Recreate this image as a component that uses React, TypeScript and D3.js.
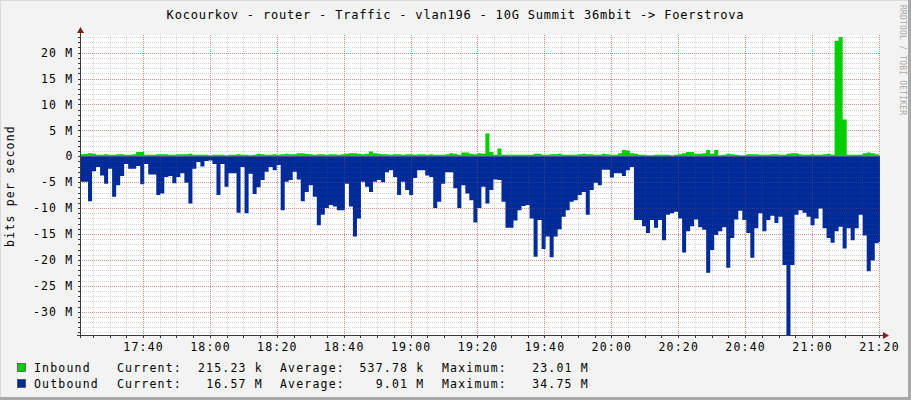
import React from 'react';
import * as d3 from 'd3';

const TITLE = 'Kocourkov - router - Traffic - vlan196 - 10G Summit 36mbit -> Foerstrova';
const Y_TITLE = 'bits per second';
const WATERMARK = 'RRDTOOL / TOBI OETIKER';

const START_TIME = new Date(2024, 0, 1, 17, 21, 10);
const END_TIME = new Date(2024, 0, 1, 21, 20, 20);
const STEP_SECONDS = 72;

// Inbound traffic, Mbit/s
const inbound = [
  0.4, 0.5, 0.6, 0.5, 0.3, 0.3, 0.4, 0.3, 0.3, 0.4,
  0.4, 0.3, 0.3, 0.4, 0.8, 0.8, 0.3, 0.3, 0.3, 0.4,
  0.4, 0.4, 0.3, 0.3, 0.4, 0.4, 0.4, 0.5, 0.3, 0.3,
  0.3, 0.3, 0.2, 0.3, 0.3, 0.3, 0.2, 0.3, 0.3, 0.4,
  0.3, 0.3, 0.2, 0.3, 0.5, 0.4, 0.3, 0.3, 0.4, 0.3,
  0.4, 0.5, 0.4, 0.4, 0.6, 0.6, 0.5, 0.4, 0.3, 0.4,
  0.4, 0.3, 0.4, 0.4, 0.3, 0.4, 0.5, 0.6, 0.6, 0.5,
  0.4, 0.5, 0.9, 0.6, 0.5, 0.4, 0.4, 0.3, 0.4, 0.4,
  0.3, 0.4, 0.4, 0.3, 0.4, 0.4, 0.3, 0.4, 0.3, 0.3,
  0.3, 0.4, 0.6, 0.5, 0.3, 0.7, 0.7, 0.5, 0.4, 0.6,
  0.5, 4.4, 0.8, 0.3, 1.5, 0.3, 0.3, 0.3, 0.3, 0.3,
  0.3, 0.3, 0.3, 0.5, 0.5, 0.3, 0.3, 0.4, 0.4, 0.5,
  0.3, 0.3, 0.3, 0.3, 0.4, 0.5, 0.4, 0.4, 0.3, 0.3,
  0.5, 0.4, 0.3, 0.3, 0.6, 1.2, 1.1, 0.6, 0.5, 0.3,
  0.3, 0.2, 0.2, 0.3, 0.3, 0.3, 0.3, 0.2, 0.3, 0.4,
  0.6, 0.8, 0.8, 0.5, 0.5, 0.6, 1.2, 0.5, 1.2, 0.2,
  0.3, 0.5, 0.4, 0.3, 0.2, 0.2, 0.4, 0.4, 0.4, 0.3,
  0.3, 0.3, 0.4, 0.4, 0.3, 0.3, 0.5, 0.6, 0.6, 0.4,
  0.3, 0.3, 0.4, 0.3, 0.3, 0.4, 0.5, 0.3, 22.3, 23.01,
  7.1, 0.3, 0.3, 0.3, 0.3, 0.6, 0.7, 0.6, 0.4, 0.215,
];

// Outbound traffic, Mbit/s (drawn below zero)
const outbound = [
  4.9, 4.9, 8.7, 2.9, 2.1, 3.7, 5.3, 2.4, 7.8, 5.6,
  3.8, 1.5, 2.4, 2.4, 1.9, 5.4, 1.5, 3.5, 3.5, 7.5,
  7.2, 4.0, 3.8, 5.2, 4.0, 3.3, 5.1, 9.1, 2.4, 1.1,
  2.0, 0.9, 0.8, 1.5, 7.5, 1.5, 5.9, 3.3, 3.3, 10.9,
  2.1, 11.0, 3.4, 7.3, 6.0, 4.6, 3.0, 2.1, 2.7, 1.7,
  10.4, 4.9, 4.6, 3.0, 4.5, 8.7, 6.9, 5.6, 7.8, 13.3,
  11.3, 10.0, 9.4, 9.7, 10.4, 10.4, 5.3, 9.7, 15.5, 12.0,
  4.9, 5.9, 6.9, 4.9, 4.6, 5.0, 3.1, 2.7, 4.0, 7.5,
  4.9, 6.5, 7.5, 4.2, 2.7, 2.7, 3.7, 4.0, 10.0, 8.8,
  5.3, 3.1, 3.1, 6.2, 10.0, 5.6, 7.2, 8.5, 12.8, 10.0,
  5.9, 9.1, 6.5, 4.5, 4.6, 8.8, 13.8, 13.8, 12.4, 10.4,
  9.6, 9.4, 12.0, 19.4, 12.3, 17.9, 15.5, 19.5, 15.5, 14.1,
  11.7, 10.4, 8.8, 8.5, 7.5, 6.9, 11.3, 6.5, 5.1, 5.6,
  2.6, 2.6, 4.1, 3.3, 3.3, 3.8, 2.7, 2.1, 12.3, 12.3,
  13.5, 14.8, 12.3, 13.8, 12.3, 16.2, 11.3, 11.0, 10.7, 12.0,
  18.6, 14.5, 13.5, 12.2, 13.7, 14.2, 22.5, 18.1, 15.2, 14.5,
  13.7, 21.5, 15.8, 12.2, 10.5, 12.3, 14.8, 19.6, 13.9, 11.0,
  14.5, 12.3, 11.5, 12.9, 11.7, 21.0, 34.75, 21.0, 11.3, 10.4,
  10.9, 11.7, 13.3, 12.0, 10.1, 13.9, 15.8, 16.7, 14.5, 13.6,
  17.8, 13.9, 16.2, 13.9, 11.3, 15.3, 22.2, 20.1, 16.8, 16.57,
];

const Y_TICKS = [20, 15, 10, 5, 0, -5, -10, -15, -20, -25, -30];

const SERIES_NAMES = ['Inbound', 'Outbound'];
const SERIES_COLORS = ['#00CF00', '#002A97'];
const CURRENT_LABELS = ['215.23 k', '16.57 M'];
const AVERAGE_LABELS = ['537.78 k', '9.01 M'];
const MAXIMUM_LABELS = ['23.01 M', '34.75 M'];

const W = 911;
const H = 400;
const PL = 80;
const PR = 880;
const PT = 35;
const PB = 335;

const FONT = '"DejaVu Sans Mono", monospace';

export default function App() {
  const x = d3.scaleTime().domain([START_TIME, END_TIME]).range([PL, PR]);
  const y = d3.scaleLinear().domain([-34.5, 23.4]).range([PB, PT]);

  const times = inbound.map((_, i) => new Date(START_TIME.getTime() + i * STEP_SECONDS * 1000));
  const endT = new Date(START_TIME.getTime() + inbound.length * STEP_SECONDS * 1000);
  const inPts = inbound.map((v, i) => ({ t: times[i], v }));
  inPts.push({ t: endT, v: inbound[inbound.length - 1] });
  const outPts = outbound.map((v, i) => ({ t: times[i], v: -v }));
  outPts.push({ t: endT, v: -outbound[outbound.length - 1] });

  const area = d3
    .area<{ t: Date; v: number }>()
    .x((d) => x(d.t))
    .y0(() => y(0))
    .y1((d) => y(d.v))
    .curve(d3.curveStepAfter);

  const minorX = d3.timeMinute.every(5)!.range(START_TIME, END_TIME);
  const majorX = d3.timeMinute.every(20)!.range(START_TIME, END_TIME);
  const minorY = d3.range(-34, 24, 1);
  const fmt = d3.timeFormat('%H:%M');

  const yLabel = (v: number) => (v === 0 ? '0' : `${v} M`);

  const axisCol = '#3A3A3A';
  const arrowCol = '#801F1F';

  const textStyle = { fontFamily: FONT, fontSize: 11.5, letterSpacing: 1.2 } as const;

  const grid = (minorCol: string, majorCol: string, key: string) => (
    <g shapeRendering="crispEdges" key={key}>
      {minorY.map((v) => (
        <line
          key={`my${v}`}
          x1={PL}
          x2={PR}
          y1={Math.round(y(v)) + 0.5}
          y2={Math.round(y(v)) + 0.5}
          stroke={minorCol}
          strokeDasharray="1,1"
        />
      ))}
      {minorX.map((t) => (
        <line
          key={`mx${t.getTime()}`}
          x1={Math.round(x(t)) + 0.5}
          x2={Math.round(x(t)) + 0.5}
          y1={PT}
          y2={PB}
          stroke={minorCol}
          strokeDasharray="1,1"
        />
      ))}
      {Y_TICKS.map((v) => (
        <line
          key={`My${v}`}
          x1={PL}
          x2={PR}
          y1={Math.round(y(v)) + 0.5}
          y2={Math.round(y(v)) + 0.5}
          stroke={majorCol}
          strokeDasharray="1,1"
        />
      ))}
      {majorX.map((t) => (
        <line
          key={`Mx${t.getTime()}`}
          x1={Math.round(x(t)) + 0.5}
          x2={Math.round(x(t)) + 0.5}
          y1={PT}
          y2={PB}
          stroke={majorCol}
          strokeDasharray="1,1"
        />
      ))}
    </g>
  );

  return (
    <svg
      width={W}
      height={H}
      viewBox={`0 0 ${W} ${H}`}
      style={{ position: 'absolute', left: 0, top: 0, display: 'block' }}
    >
      <rect x={0} y={0} width={W} height={H} fill="#F3F3F3" />
      <line x1={0} y1={0.5} x2={W} y2={0.5} stroke="#DADADA" />
      <line x1={0.5} y1={0} x2={0.5} y2={H} stroke="#DADADA" />
      <rect x={W - 3} y={0} width={3} height={H} fill="#A8A8A8" />
      <rect x={0} y={H - 3} width={W} height={3} fill="#A8A8A8" />

      <rect x={PL} y={PT} width={PR - PL} height={PB - PT} fill="#FFFFFF" />

      <defs>
        <clipPath id="plotclip">
          <rect x={PL} y={PT} width={PR - PL} height={PB - PT} />
        </clipPath>
      </defs>

      {grid('rgba(150,150,150,0.3)', 'rgba(222,79,79,0.45)', 'under')}

      <g clipPath="url(#plotclip)">
        <path d={area(inPts) || ''} fill={SERIES_COLORS[0]} />
        <path d={area(outPts) || ''} fill={SERIES_COLORS[1]} />
      </g>

      {grid('rgba(150,150,150,0.12)', 'rgba(222,79,79,0.18)', 'over')}

      <g shapeRendering="crispEdges" stroke={axisCol}>
        <line x1={PL - 3} x2={PR + 4} y1={PB + 0.5} y2={PB + 0.5} />
        <line x1={PL + 0.5} x2={PL + 0.5} y1={PT - 4} y2={PB + 3} />
        {minorY.map((v) => (
          <line key={`ty${v}`} x1={PL - 2} x2={PL} y1={Math.round(y(v)) + 0.5} y2={Math.round(y(v)) + 0.5} />
        ))}
        {minorX.map((t) => (
          <line key={`tx${t.getTime()}`} x1={Math.round(x(t)) + 0.5} x2={Math.round(x(t)) + 0.5} y1={PB + 1} y2={PB + 3} />
        ))}
      </g>
      <path d={`M${PR + 3},${PB - 3} L${PR + 9},${PB + 0.5} L${PR + 3},${PB + 4} Z`} fill={arrowCol} />
      <path d={`M${PL - 3},${PT - 2} L${PL + 0.5},${PT - 8} L${PL + 4},${PT - 2} Z`} fill={arrowCol} />

      {Y_TICKS.map((v) => (
        <text key={`yl${v}`} x={73.5} y={y(v) + 4.2} textAnchor="end" style={textStyle} fill="#000">
          {yLabel(v)}
        </text>
      ))}

      {majorX.map((t) => (
        <text key={`xl${t.getTime()}`} x={x(t) + 0.6} y={351} textAnchor="middle" style={textStyle} fill="#000">
          {fmt(t)}
        </text>
      ))}

      <text transform="translate(14,186) rotate(-90)" textAnchor="middle" style={textStyle} fill="#000">
        {Y_TITLE}
      </text>

      <text x={455.5} y={19} textAnchor="middle" style={{ fontFamily: FONT, fontSize: 12, letterSpacing: 0.8 }} fill="#000">
        {TITLE}
      </text>

      <text
        transform="translate(900,5) rotate(90)"
        textAnchor="start"
        style={{ fontFamily: FONT, fontSize: 8, letterSpacing: 0.2 }}
        fill="#A8A8A8"
      >
        {WATERMARK}
      </text>

      {SERIES_NAMES.map((name, i) => {
        const by = 372 + i * 16;
        return (
          <g key={name}>
            <rect x={17.5} y={by - 8.5} width={8} height={8} fill={SERIES_COLORS[i]} stroke="#333" strokeWidth={0.6} />
            <text x={34} y={by} style={textStyle} fill="#000">{name}</text>
            <text x={117} y={by} style={textStyle} fill="#000">Current:</text>
            <text x={263} y={by} textAnchor="end" style={textStyle} fill="#000">{CURRENT_LABELS[i]}</text>
            <text x={280} y={by} style={textStyle} fill="#000">Average:</text>
            <text x={424.5} y={by} textAnchor="end" style={textStyle} fill="#000">{AVERAGE_LABELS[i]}</text>
            <text x={442} y={by} style={textStyle} fill="#000">Maximum:</text>
            <text x={589} y={by} textAnchor="end" style={textStyle} fill="#000">{MAXIMUM_LABELS[i]}</text>
          </g>
        );
      })}
    </svg>
  );
}
